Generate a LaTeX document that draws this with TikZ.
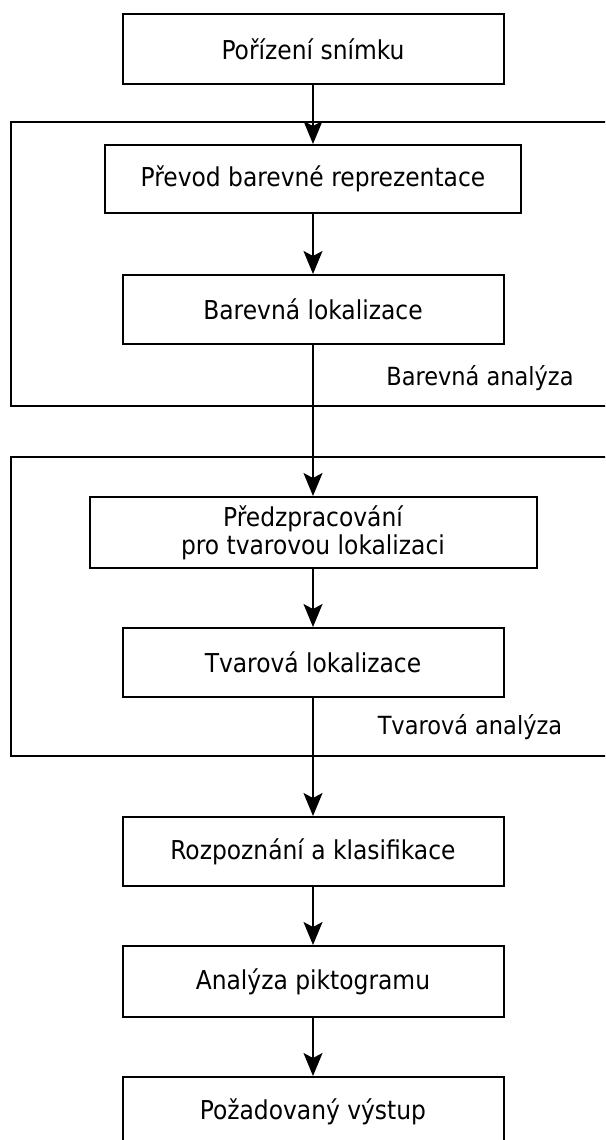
\documentclass[tikz,border=0pt]{standalone}
\usepackage{fontspec}
\setmainfont{DejaVu Sans Condensed}
\usetikzlibrary{arrows.meta}
\begin{document}
\begin{tikzpicture}[x=1pt,y=-1pt,
  every node/.style={font=\fontsize{25}{28}\selectfont},
  stepbox/.style={draw, line width=2pt, inner sep=0pt, align=center,
    font=\fontsize{26}{28}\selectfont,
    minimum width=381pt, minimum height=70pt},
  groupframe/.style={draw, line width=2pt},
  flow/.style={line width=1.6pt, -{Stealth[length=23pt,width=19pt,inset=5pt]}}]
\useasboundingbox (0,0) rectangle (605,1140);
\clip (0,0) rectangle (605,1140);

% group frames (they run past the right and bottom edge)
\draw[groupframe] (11,122) rectangle (650,406);
\draw[groupframe] (11,457) rectangle (650,756);
\node[anchor=center] (lblA) at (480,378) {Barevná analýza};
\node[anchor=center] (lblB) at (470,727) {Tvarová analýza};

% processing steps
\node[stepbox] (b1) at (313,49) {Pořízení snímku};
\node[stepbox, minimum width=416pt, minimum height=68pt] (b2) at (313,179) {Převod barevné reprezentace};
\node[stepbox, minimum height=69pt] (b3) at (313,309.5) {Barevná lokalizace};
\node[stepbox, minimum width=447pt, minimum height=71pt] (b4) at (313,532.5) {Předzpracování\\pro tvarovou lokalizaci};
\node[stepbox, minimum height=69pt] (b5) at (313,662.5) {Tvarová lokalizace};
\node[stepbox, minimum height=69pt] (b6) at (313,851.5) {Rozpoznání a klasifikace};
\node[stepbox, minimum height=71pt] (b7) at (313,981.5) {Analýza piktogramu};
\node[stepbox] (b8) at (313,1112) {Požadovaný výstup};

% connectors
\draw[flow] (b1) -- (b2);
\draw[flow] (b2) -- (b3);
\draw[flow] (b3) -- (b4);
\draw[flow] (b4) -- (b5);
\draw[flow] (b5) -- (b6);
\draw[flow] (b6) -- (b7);
\draw[flow] (b7) -- (b8);
\end{tikzpicture}
\end{document}
